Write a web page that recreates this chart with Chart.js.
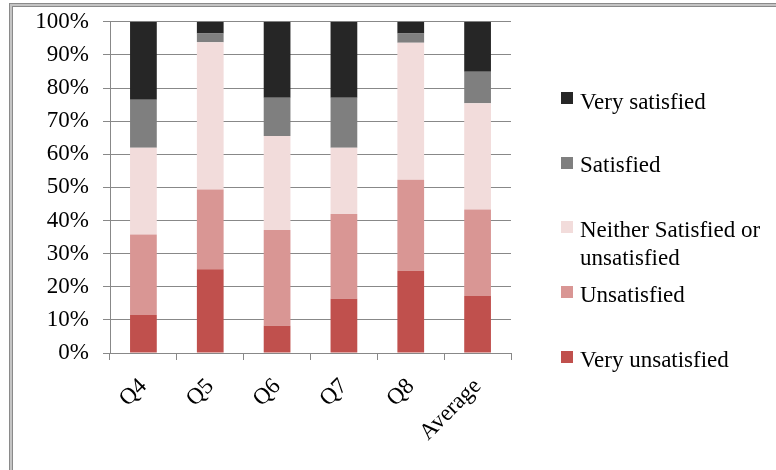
<!DOCTYPE html>
<html>
<head>
<meta charset="utf-8">
<script src="https://cdn.jsdelivr.net/npm/chart.js@4/dist/chart.umd.min.js"></script>
<style>
  html, body { margin: 0; padding: 0; background: #fff; }
  #wrap { position: relative; width: 776px; height: 470px; overflow: hidden; font-family: "Liberation Serif", "Times New Roman", serif; }
  #chart { position: absolute; left: 0; top: -6px; }
  .frame1 { position: absolute; left: 9px; top: 3px; width: 800px; height: 500px; border-left: 1px solid #8a8a8a; border-top: 1px solid #8a8a8a; }
  .frame2 { position: absolute; left: 0; top: 0; right: 0; bottom: 0; border-left: 2px solid #c4c4c4; border-top: 2px solid #c4c4c4; }
  .frame3 { position: absolute; left: 0; top: 0; right: 0; bottom: 0; border-left: 1px solid #8a8a8a; border-top: 1px solid #8a8a8a; }
  .leg { position: absolute; left: 561px; font-size: 23px; line-height: 28px; color: #000; white-space: nowrap; }
  .leg .box { position: absolute; left: 0; width: 12px; height: 12px; }
  .leg .txt { position: absolute; left: 19px; top: 0; }
</style>
</head>
<body>
<div id="wrap">
  <div class="frame1"><div class="frame2"><div class="frame3"></div></div></div>
  <canvas id="chart" width="776" height="476"></canvas>
  <div id="legend"></div>
</div>
<script>
// Survey questions on the x axis
const categories = ['Q4', 'Q5', 'Q6', 'Q7', 'Q8', 'Average'];

// Share of answers per question (%), stacked bottom to top
const veryUnsatisfied = [11.5, 25.3, 8.2, 16.4, 24.8, 17.2];
const unsatisfied     = [24.3, 24.1, 28.9, 25.6, 27.5, 26.1];
const neither         = [26.2, 44.4, 28.4, 20.0, 41.4, 32.1];
const satisfied       = [14.5, 2.7, 11.6, 15.1, 2.8, 9.5];
const verySatisfied   = [23.5, 3.5, 22.9, 22.9, 3.5, 15.1];

const seriesNames = ['Very unsatisfied', 'Unsatisfied', 'Neither Satisfied or unsatisfied', 'Satisfied', 'Very satisfied'];
const seriesValues = [veryUnsatisfied, unsatisfied, neither, satisfied, verySatisfied];
const seriesColors = ['#c0504d', '#d99694', '#f2dcdb', '#7f7f7f', '#262626'];

const yTickLabels = ['0%', '10%', '20%', '30%', '40%', '50%', '60%', '70%', '80%', '90%', '100%'];

const gridColor = '#888888';
const font = { family: '"Liberation Serif", "Times New Roman", serif', size: 23 };

new Chart(document.getElementById('chart'), {
  type: 'bar',
  data: {
    labels: categories,
    datasets: seriesNames.map((name, i) => ({
      label: name,
      data: seriesValues[i],
      backgroundColor: seriesColors[i],
      borderWidth: 0,
      categoryPercentage: 1,
      barPercentage: 0.4
    }))
  },
  options: {
    responsive: false,
    animation: false,
    layout: { padding: { left: 0, right: 265, top: 15, bottom: 0 } },
    plugins: { legend: { display: false }, tooltip: { enabled: false } },
    scales: {
      x: {
        stacked: true,
        grid: { display: true, drawOnChartArea: false, drawTicks: true, tickLength: 7, color: gridColor, offset: true },
        border: { display: true, color: gridColor, width: 1 },
        ticks: { color: '#000', font: font, minRotation: 45, maxRotation: 45, padding: 13 },
        afterFit: (scale) => { scale.height = 117; }
      },
      y: {
        stacked: true,
        min: 0,
        max: 100,
        grid: { color: gridColor, lineWidth: 1, drawTicks: true, tickLength: 7 },
        border: { display: true, color: gridColor, width: 1 },
        ticks: {
          stepSize: 10,
          color: '#000',
          font: font,
          padding: 14,
          callback: (v) => yTickLabels[Math.round(v / 10)]
        },
        afterFit: (scale) => { scale.width = 110; }
      }
    }
  }
});

// Legend, listed from the top of the stack down
const legendTops = [346, 281, 216, 151, 88];
const boxTops = [5, 5, 5, 6, 4];
const legend = document.getElementById('legend');
for (let i = seriesNames.length - 1; i >= 0; i--) {
  const row = document.createElement('div');
  row.className = 'leg';
  row.style.top = legendTops[i] + 'px';
  const box = document.createElement('div');
  box.className = 'box';
  box.style.top = boxTops[i] + 'px';
  box.style.background = seriesColors[i];
  const txt = document.createElement('div');
  txt.className = 'txt';
  if (seriesNames[i] === 'Neither Satisfied or unsatisfied') {
    txt.innerHTML = 'Neither Satisfied or<br>unsatisfied';
  } else {
    txt.textContent = seriesNames[i];
  }
  row.appendChild(box);
  row.appendChild(txt);
  legend.appendChild(row);
}
</script>
</body>
</html>
